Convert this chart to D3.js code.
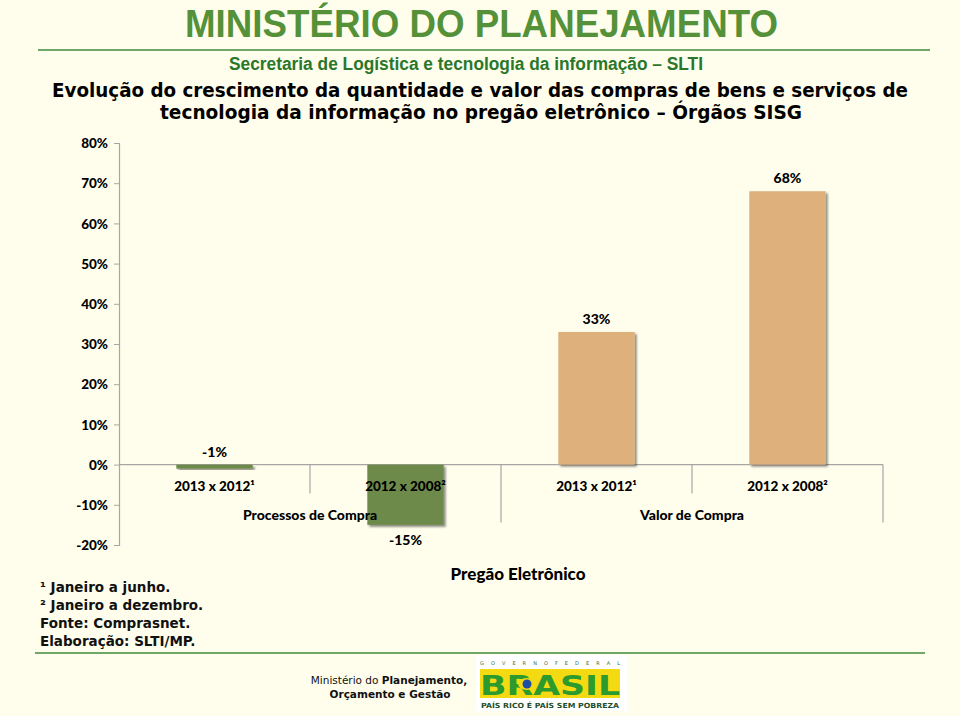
<!DOCTYPE html>
<html>
<head>
<meta charset="utf-8">
<script src="https://cdn.jsdelivr.net/npm/d3@7"></script>
<style>
  html, body { margin: 0; padding: 0; background: #FFFEEC; }
  svg { display: block; }
</style>
</head>
<body>
<svg id="chart" width="960" height="716"></svg>
<script>
// ---- data ----
const categories = ["2013 x 2012¹", "2012 x 2008²", "2013 x 2012¹", "2012 x 2008²"];
const groups = ["Processos de Compra", "Valor de Compra"];
const groupOf = [0, 0, 1, 1];
const values = [-1, -15, 33, 68];
const valueLabels = ["-1%", "-15%", "33%", "68%"];
const yTicks = [-20, -10, 0, 10, 20, 30, 40, 50, 60, 70, 80];
const axisTitle = "Pregão Eletrônico";
const footnotes = ["¹ Janeiro a junho.", "² Janeiro a dezembro.", "Fonte: Comprasnet.", "Elaboração: SLTI/MP."];

const svg = d3.select("#chart");
const W = 960, H = 716;
svg.append("rect").attr("width", W).attr("height", H).attr("fill", "#FFFEEC");

// drop shadow filter
const defs = svg.append("defs");
const f = defs.append("filter").attr("id", "sh").attr("x", "-10%").attr("y", "-10%").attr("width", "130%").attr("height", "130%");
f.append("feGaussianBlur").attr("in", "SourceAlpha").attr("stdDeviation", 1.2);
f.append("feOffset").attr("dx", 1.5).attr("dy", 2).attr("result", "ob");
f.append("feComponentTransfer").append("feFuncA").attr("type", "linear").attr("slope", 0.45);
const fm = f.append("feMerge");
fm.append("feMergeNode");
fm.append("feMergeNode").attr("in", "SourceGraphic");

// ---- header ----
svg.append("text").attr("x", 185).attr("y", 37)
  .attr("textLength", 593).attr("lengthAdjust", "spacingAndGlyphs")
  .attr("font-family", "Liberation Sans, Arial, sans-serif").attr("font-weight", "bold")
  .attr("font-size", 39).attr("fill", "#559139").text("MINISTÉRIO DO PLANEJAMENTO");
svg.append("line").attr("x1", 38).attr("x2", 930).attr("y1", 50).attr("y2", 50)
  .attr("stroke", "#3F8A3A").attr("stroke-width", 1.5);
svg.append("text").attr("x", 229).attr("y", 70)
  .attr("textLength", 474).attr("lengthAdjust", "spacingAndGlyphs")
  .attr("font-family", "Liberation Sans, Arial, sans-serif").attr("font-weight", "bold")
  .attr("font-size", 18).attr("fill", "#2A772C").text("Secretaria de Logística e tecnologia da informação – SLTI");
svg.append("text").attr("x", 52).attr("y", 97)
  .attr("textLength", 856).attr("lengthAdjust", "spacingAndGlyphs")
  .attr("font-family", "DejaVu Sans, Verdana, sans-serif").attr("font-weight", "bold")
  .attr("font-size", 19).attr("fill", "#000").text("Evolução do crescimento da quantidade e valor das compras de bens e serviços de");
svg.append("text").attr("x", 160).attr("y", 119)
  .attr("textLength", 642).attr("lengthAdjust", "spacingAndGlyphs")
  .attr("font-family", "DejaVu Sans, Verdana, sans-serif").attr("font-weight", "bold")
  .attr("font-size", 19).attr("fill", "#000").text("tecnologia da informação no pregão eletrônico – Órgãos SISG");

// ---- chart ----
const x0 = 119, x1 = 883;
const y = d3.scaleLinear().domain([-20, 80]).range([545, 143]);
const x = d3.scaleBand().domain(d3.range(categories.length)).range([x0, x1])
  .paddingInner(0.6).paddingOuter(0.3);
const slot = (x1 - x0) / categories.length;
const labelFont = "Lato, 'Open Sans', sans-serif";

// y axis
const yAxis = d3.axisLeft(y).tickValues(yTicks).tickFormat(d => d + "%").tickSize(5).tickPadding(6);
const gy = svg.append("g").attr("transform", `translate(${x0},0)`).call(yAxis);
gy.select(".domain").attr("stroke", "#A6A6A6").attr("stroke-width", 1.2);
gy.selectAll(".tick line").attr("stroke", "#A6A6A6");
gy.selectAll(".tick text").attr("font-family", labelFont).attr("font-weight", 900)
  .attr("font-size", 13.5).attr("fill", "#000").attr("dy", "0.35em");

// zero line / category axis
svg.append("line").attr("x1", x0).attr("x2", x1).attr("y1", y(0)).attr("y2", y(0))
  .attr("stroke", "#A6A6A6").attr("stroke-width", 1.2);
// separators
categories.forEach((c, i) => {
  const xs = x0 + slot * (i + 1);
  const groupEnd = (i === categories.length - 1) || groupOf[i + 1] !== groupOf[i];
  svg.append("line").attr("x1", xs).attr("x2", xs).attr("y1", y(0)).attr("y2", y(0) + (groupEnd ? 58 : 29))
    .attr("stroke", "#A6A6A6").attr("stroke-width", 1.2);
});

// bars
const colors = ["#6E8A4C", "#DEB07C"];
svg.append("g").selectAll("rect").data(values).join("rect")
  .attr("x", (d, i) => x(i))
  .attr("width", x.bandwidth())
  .attr("y", d => y(Math.max(0, d)))
  .attr("height", d => Math.abs(y(d) - y(0)))
  .attr("fill", (d, i) => colors[groupOf[i]])
  .attr("filter", "url(#sh)");

// category labels
svg.append("g").selectAll("text").data(categories).join("text")
  .attr("x", (d, i) => x(i) + x.bandwidth() / 2)
  .attr("y", y(0) + 26)
  .attr("text-anchor", "middle")
  .attr("font-family", labelFont).attr("font-weight", 900).attr("font-size", 13.5)
  .attr("fill", "#000").text(d => d);

// group labels
groups.forEach((g, gi) => {
  const idx = d3.range(categories.length).filter(i => groupOf[i] === gi);
  const cx = x0 + slot * (idx[0] + idx[idx.length - 1] + 1) / 2;
  svg.append("text").attr("x", cx).attr("y", y(0) + 55).attr("text-anchor", "middle")
    .attr("font-family", labelFont).attr("font-weight", 900).attr("font-size", 14)
    .attr("fill", "#000").text(g);
});

// value labels
svg.append("g").selectAll("text").data(values).join("text")
  .attr("x", (d, i) => x(i) + x.bandwidth() / 2)
  .attr("y", d => d >= 0 ? y(d) - 8 : (d > -5 ? y(0) - 8 : y(d) + 20))
  .attr("text-anchor", "middle")
  .attr("font-family", labelFont).attr("font-weight", 900).attr("font-size", 14)
  .attr("fill", "#000").text((d, i) => valueLabels[i]);

// axis title
svg.append("text").attr("x", 518).attr("y", 580).attr("text-anchor", "middle")
  .attr("font-family", labelFont).attr("font-weight", 900).attr("font-size", 17)
  .attr("fill", "#000").text(axisTitle);

// footnotes
svg.append("g").selectAll("text").data(footnotes).join("text")
  .attr("x", 40).attr("y", (d, i) => 592 + i * 18)
  .attr("font-family", "DejaVu Sans, Verdana, sans-serif").attr("font-weight", "bold")
  .attr("font-size", 13.5).attr("fill", "#111").text(d => d);

// footer line
svg.append("line").attr("x1", 35).attr("x2", 925).attr("y1", 653).attr("y2", 653)
  .attr("stroke", "#3F8A3A").attr("stroke-width", 1.5);

// footer text
const ft = svg.append("text").attr("x", 389).attr("y", 684).attr("text-anchor", "middle")
  .attr("font-family", "DejaVu Sans, Verdana, sans-serif").attr("font-size", 10.5).attr("fill", "#111");
ft.append("tspan").text("Ministério do ");
ft.append("tspan").attr("font-weight", "bold").text("Planejamento,");
svg.append("text").attr("x", 390).attr("y", 698).attr("text-anchor", "middle")
  .attr("font-family", "DejaVu Sans, Verdana, sans-serif").attr("font-weight", "bold")
  .attr("font-size", 10.5).attr("fill", "#111").text("Orçamento e Gestão");

// logo
const lg = svg.append("g");
lg.append("rect").attr("x", 476).attr("y", 655).attr("width", 151).attr("height", 56).attr("fill", "#FFFFFF");
lg.append("text").attr("x", 480).attr("y", 665).attr("textLength", 140).attr("lengthAdjust", "spacing")
  .attr("font-family", "DejaVu Sans, sans-serif").attr("font-size", 5).attr("fill", "#3D6B3D")
  .text("G O V E R N O     F E D E R A L");
lg.append("rect").attr("x", 480).attr("y", 669).attr("width", 140).attr("height", 29).attr("fill", "#F3DA12");
lg.append("text").attr("x", 480).attr("y", 695).attr("textLength", 140).attr("lengthAdjust", "spacingAndGlyphs")
  .attr("font-family", "DejaVu Sans, sans-serif").attr("font-weight", "bold").attr("font-size", 27)
  .attr("fill", "#2C9A2C").text("BRASIL");
lg.append("ellipse").attr("cx", 527).attr("cy", 684).attr("rx", 9).attr("ry", 6).attr("fill", "#F3DA12");
lg.append("circle").attr("cx", 527).attr("cy", 684).attr("r", 4.5).attr("fill", "#1F4FA0");
lg.append("text").attr("x", 481).attr("y", 708).attr("textLength", 138).attr("lengthAdjust", "spacingAndGlyphs")
  .attr("font-family", "DejaVu Sans, sans-serif").attr("font-weight", "bold").attr("font-size", 7)
  .attr("fill", "#1E4E2A").text("PAÍS RICO É PAÍS SEM POBREZA");
</script>
</body>
</html>
